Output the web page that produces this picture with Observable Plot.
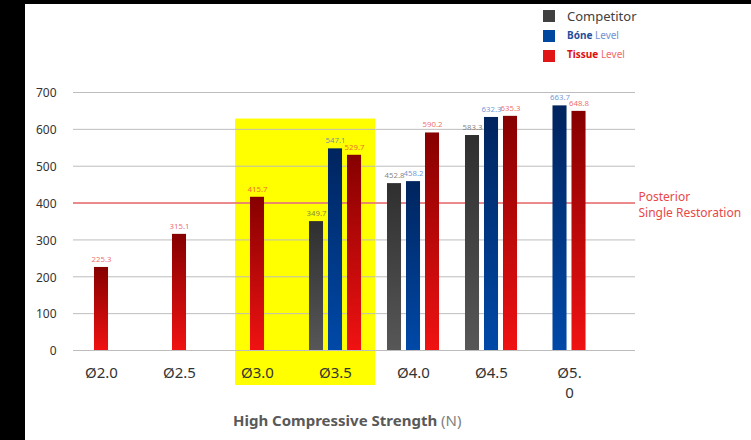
<!DOCTYPE html>
<html>
<head>
<meta charset="utf-8">
<script src="https://cdn.jsdelivr.net/npm/d3@7"></script>
<script src="https://cdn.jsdelivr.net/npm/@observablehq/plot@0.6"></script>
<style>
  html, body { margin: 0; padding: 0; background: #000; width: 751px; height: 440px; overflow: hidden; }
  #panel { position: absolute; left: 25px; top: 4px; width: 726px; height: 436px; background: #fff; font-family: "Noto Sans", sans-serif; }
  .sw { position: absolute; width: 12px; height: 12px; }
  .lt { position: absolute; line-height: 1; white-space: nowrap; }
  #chart { position: absolute; left: 0; top: 68px; }
  #caption { position: absolute; left: 208px; top: 409px; font-size: 15px; line-height: 1; color: #595959; white-space: nowrap; }
</style>
</head>
<body>
<div id="panel">
  <div class="sw" style="left:518px;top:6px;background:#404040"></div>
  <div class="lt" style="left:542px;top:6px;font-size:13px;color:#404040">Competitor</div>
  <div class="sw" style="left:518px;top:26px;background:#0047A0"></div>
  <div class="lt" style="left:542px;top:26px;font-size:10px;color:#6F93D3"><b style="color:#1F4E9A">Bóne</b> Level</div>
  <div class="sw" style="left:518px;top:46px;background:#E01616"></div>
  <div class="lt" style="left:542px;top:45px;font-size:10px;color:#F06A6A"><b style="color:#E01010">Tissue</b> Level</div>
  <div id="chart"></div>
  <div id="caption"><b>High Compressive Strength</b> <span style="color:#808080">(N)</span></div>
</div>
<script>
// ---- data ----
const categories = ["Ø2.0", "Ø2.5", "Ø3.0", "Ø3.5", "Ø4.0", "Ø4.5", "Ø5.0"];
const xTickLabels = ["Ø2.0", "Ø2.5", "Ø3.0", "Ø3.5", "Ø4.0", "Ø4.5", "Ø5.\n0"];
const seriesNames = ["Competitor", "Bone", "Tissue"];
const competitor = [null, null, null, 349.7, 452.8, 583.3, null];
const bone       = [null, null, null, 547.1, 458.2, 632.3, 663.7];
const tissue     = [225.3, 315.1, 415.7, 529.7, 590.2, 635.3, 648.8];
const yTicks = [0, 100, 200, 300, 400, 500, 600, 700];
const posteriorLevel = 400;
const posteriorLabel = "Posterior\nSingle Restoration";
const highlightCats = ["Ø3.0", "Ø3.5"];
const highlightTop = 628;

// ---- build rows ----
const seriesValues = [competitor, bone, tissue];
const step = 0.2436, barW = 0.18;
const rows = [];
categories.forEach((c, i) => {
  const present = seriesNames.map((s, k) => ({s, v: seriesValues[k][i]})).filter(d => d.v != null);
  const n = present.length;
  present.forEach((d, k) => {
    const cx = i + (k - (n - 1) / 2) * step;
    rows.push({category: c, series: d.s, value: d.v, cx, x1: cx - barW / 2, x2: cx + barW / 2});
  });
});
const idx = c => categories.indexOf(c);
const xDomain = [-0.359, 6.846];
const fills = {Competitor: "url(#gComp)", Bone: "url(#gBone)", Tissue: "url(#gTissue)"};
const labelColors = {Competitor: "#5a5a5a", Bone: "#3f74c8", Tissue: "#e83a3a"};

const svg = Plot.plot({
  width: 726,
  height: 330,
  marginLeft: 48,
  marginRight: 116,
  marginTop: 20,
  marginBottom: 52,
  style: {fontFamily: "Noto Sans, sans-serif", background: "transparent"},
  x: {type: "linear", domain: xDomain},
  y: {domain: [0, 700]},
  marks: [
    Plot.rect([highlightCats], {
      x1: d => idx(d[0]) - 0.282, x2: d => idx(d[1]) + 0.513,
      y1: -95, y2: highlightTop, fill: "#FFFF00"
    }),
    Plot.gridY(yTicks, {stroke: "#BDBDBD", strokeOpacity: 1, strokeWidth: 1}),
    Plot.ruleY([posteriorLevel], {stroke: "#EE6E6E", strokeWidth: 1.6}),
    Plot.text([posteriorLabel], {
      x: xDomain[1], y: posteriorLevel, text: d => d, textAnchor: "start", dx: 3, dy: 1,
      fontSize: 12, lineHeight: 1.3, fill: "#E84848"
    }),
    ...seriesNames.map(s => Plot.rectY(rows.filter(r => r.series === s), {
      x1: "x1", x2: "x2", y: "value", fill: fills[s]
    })),
    ...seriesNames.map(s => Plot.text(rows.filter(r => r.series === s), {
      x: "cx", y: "value", text: d => d.value.toFixed(1), dy: -8,
      fontSize: 7.8, fill: labelColors[s], fillOpacity: 0.75
    })),
    Plot.axisY(yTicks, {tickSize: 0, tickPadding: 17, fontSize: 12, color: "#333", label: null, dy: 1}),
    Plot.axisX(d3.range(categories.length), {
      tickSize: 0, tickPadding: 14, fontSize: 15, color: "#333", label: null,
      tickFormat: i => xTickLabels[i], lineHeight: 1.3
    })
  ]
});

const defs = d3.select(svg).insert("defs", ":first-child");
const grads = [
  ["gComp", "#2f2f2f", "#575757"],
  ["gBone", "#00245e", "#0049a8"],
  ["gTissue", "#860000", "#f01212"]
];
for (const [id, top, bot] of grads) {
  const g = defs.append("linearGradient").attr("id", id).attr("x1", 0).attr("y1", 0).attr("x2", 0).attr("y2", 1);
  g.append("stop").attr("offset", "0%").attr("stop-color", top);
  g.append("stop").attr("offset", "100%").attr("stop-color", bot);
}
document.getElementById("chart").appendChild(svg);
</script>
</body>
</html>
